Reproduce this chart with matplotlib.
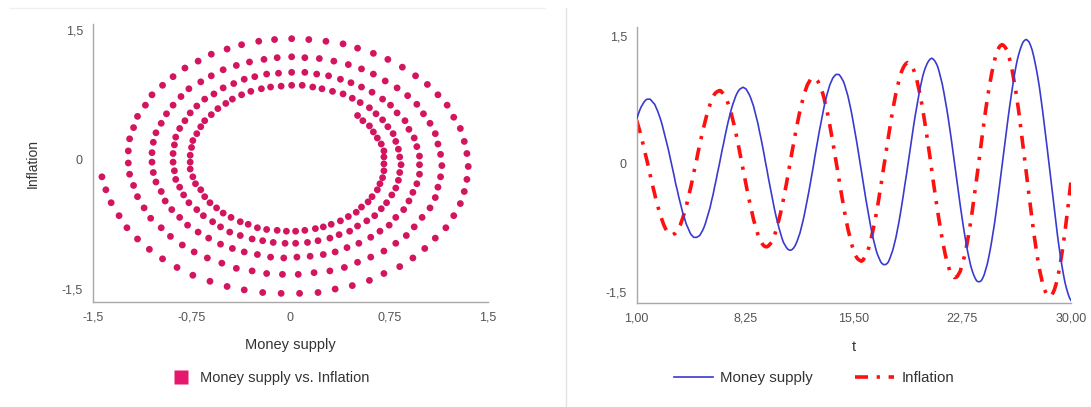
import matplotlib
matplotlib.use("Agg")
import matplotlib.pyplot as plt
from matplotlib.lines import Line2D

# time grid (t = 1.0 ... 30.0)
t = [
 1.0,1.1,1.2,1.3,1.4,1.5,1.6,1.7,1.8,1.9,
 2.0,2.1,2.2,2.3,2.4,2.5,2.6,2.7,2.8,2.9,
 3.0,3.1,3.2,3.3,3.4,3.5,3.6,3.7,3.8,3.9,
 4.0,4.1,4.2,4.3,4.4,4.5,4.6,4.7,4.8,4.9,
 5.0,5.1,5.2,5.3,5.4,5.5,5.6,5.7,5.8,5.9,
 6.0,6.1,6.2,6.3,6.4,6.5,6.6,6.7,6.8,6.9,
 7.0,7.1,7.2,7.3,7.4,7.5,7.6,7.7,7.8,7.9,
 8.0,8.1,8.2,8.3,8.4,8.5,8.6,8.7,8.8,8.9,
 9.0,9.1,9.2,9.3,9.4,9.5,9.6,9.7,9.8,9.9,
 10.0,10.1,10.2,10.3,10.4,10.5,10.6,10.7,10.8,10.9,
 11.0,11.1,11.2,11.3,11.4,11.5,11.6,11.7,11.8,11.9,
 12.0,12.1,12.2,12.3,12.4,12.5,12.6,12.7,12.8,12.9,
 13.0,13.1,13.2,13.3,13.4,13.5,13.6,13.7,13.8,13.9,
 14.0,14.1,14.2,14.3,14.4,14.5,14.6,14.7,14.8,14.9,
 15.0,15.1,15.2,15.3,15.4,15.5,15.6,15.7,15.8,15.9,
 16.0,16.1,16.2,16.3,16.4,16.5,16.6,16.7,16.8,16.9,
 17.0,17.1,17.2,17.3,17.4,17.5,17.6,17.7,17.8,17.9,
 18.0,18.1,18.2,18.3,18.4,18.5,18.6,18.7,18.8,18.9,
 19.0,19.1,19.2,19.3,19.4,19.5,19.6,19.7,19.8,19.9,
 20.0,20.1,20.2,20.3,20.4,20.5,20.6,20.7,20.8,20.9,
 21.0,21.1,21.2,21.3,21.4,21.5,21.6,21.7,21.8,21.9,
 22.0,22.1,22.2,22.3,22.4,22.5,22.6,22.7,22.8,22.9,
 23.0,23.1,23.2,23.3,23.4,23.5,23.6,23.7,23.8,23.9,
 24.0,24.1,24.2,24.3,24.4,24.5,24.6,24.7,24.8,24.9,
 25.0,25.1,25.2,25.3,25.4,25.5,25.6,25.7,25.8,25.9,
 26.0,26.1,26.2,26.3,26.4,26.5,26.6,26.7,26.8,26.9,
 27.0,27.1,27.2,27.3,27.4,27.5,27.6,27.7,27.8,27.9,
 28.0,28.1,28.2,28.3,28.4,28.5,28.6,28.7,28.8,28.9,
 29.0,29.1,29.2,29.3,29.4,29.5,29.6,29.7,29.8,29.9,
 30.0]

# time-series panel values
money_supply = [
 .53,.58,.63,.67,.70,.73,.75,.76,.76,.76,.74,.72,.70,.66,.62,.57,.52,.46,.39,.32,
 .25,.18,.10,.02,-.06,-.14,-.23,-.30,-.38,-.45,-.52,-.59,-.64,-.70,-.74,-.78,-.82,-.84,-.86,-.86,
 -.86,-.85,-.84,-.81,-.78,-.74,-.69,-.63,-.57,-.51,-.43,-.36,-.27,-.19,-.10,-.02,.07,.16,.24,.33,
 .41,.49,.56,
 .63,.69,.74,.79,.83,.86,.88,.89,.90,.89,.88,.85,.82,.78,.73,.68,.61,.54,.47,.38,
 .30,.21,.12,.02,-.07,-.17,-.26,-.35,-.44,-.53,-.61,-.68,-.75,-.81,-.87,-.92,-.95,-.98,-1.00,-1.01,
 -1.01,-1.00,-.98,-.95,-.91,-.86,-.81,-.74,-.67,-.59,-.50,-.41,-.32,-.22,-.12,-.02,.09,.19,.29,.39,
 .48,.57,.66,
 .74,.81,.87,.93,.97,1.01,1.03,1.05,1.05,1.05,1.03,1.00,.97,.92,.86,.80,.72,.64,.55,.45,
 .35,.25,.14,.03,-.08,-.19,-.30,-.41,-.51,-.61,-.71,-.80,-.88,-.95,-1.02,-1.07,-1.11,-1.15,-1.17,-1.18,
 -1.18,-1.17,-1.15,-1.11,-1.06,-1.01,-.94,-.87,-.78,-.69,-.59,-.48,-.37,-.25,-.14,-.02,.10,.22,.34,.46,
 .57,.67,.77,
 .87,.95,1.03,1.09,1.14,1.18,1.21,1.23,1.24,1.23,1.21,1.18,1.14,1.08,1.01,.94,.85,.75,.65,.54,
 .42,.30,.17,.04,-.09,-.22,-.35,-.48,-.60,-.72,-.83,-.93,-1.03,-1.11,-1.19,-1.25,-1.30,-1.34,-1.37,-1.38,
 -1.38,-1.37,-1.34,-1.30,-1.24,-1.18,-1.10,-1.01,-.91,-.80,-.69,-.56,-.43,-.29,-.16,-.02,.13,.27,.41,.54,
 .67,.79,.91,
 1.02,1.12,1.21,1.28,1.34,1.39,1.43,1.45,1.46,1.45,1.43,1.39,1.34,1.27,1.19,1.10,1.00,.89,.76,.63,
 .49,.35,.20,.05,-.10,-.26,-.41,-.56,-.70,-.84,-.97,-1.09,-1.20,-1.30,-1.39,-1.46,-1.52,-1.57,-1.60]

inflation = [
 .51,.45,.39,.32,.25,.18,.10,.03,-.05,-.13,-.21,-.28,-.35,-.43,-.49,-.55,-.61,-.66,-.71,-.75,
 -.78,-.80,-.82,-.83,-.83,-.82,-.81,-.79,-.75,-.72,-.67,-.62,-.56,-.50,-.43,-.35,-.28,-.20,-.11,-.03,
 .05,.14,.22,.30,.38,.45,.52,.59,.65,.70,.75,.79,.82,.84,.85,.86,.86,.84,.82,.79,
 .76,.71,.66,
 .60,.53,.46,.38,.30,.21,.12,.03,-.06,-.15,-.24,-.33,-.41,-.50,-.57,-.65,-.71,-.77,-.83,-.87,
 -.91,-.94,-.96,-.97,-.97,-.96,-.94,-.92,-.88,-.84,-.78,-.72,-.65,-.58,-.50,-.41,-.32,-.23,-.13,-.03,
 .07,.17,.26,.36,.45,.54,.62,.70,.76,.83,.88,.93,.96,.99,1.00,1.01,1.01,.99,.97,.93,
 .89,.84,.78,
 .70,.63,.54,.45,.35,.25,.15,.04,-.06,-.17,-.28,-.38,-.48,-.58,-.67,-.76,-.83,-.90,-.97,-1.02,
 -1.07,-1.10,-1.12,-1.13,-1.14,-1.13,-1.10,-1.07,-1.03,-.98,-.91,-.84,-.76,-.67,-.58,-.48,-.37,-.26,-.15,-.03,
 .08,.20,.31,.42,.53,.63,.73,.82,.90,.97,1.04,1.09,1.13,1.16,1.18,1.19,1.18,1.17,1.14,1.10,
 1.05,.99,.91,
 .83,.74,.64,.53,.42,.30,.18,.06,-.07,-.20,-.32,-.44,-.56,-.67,-.78,-.88,-.97,-1.06,-1.13,-1.19,
 -1.25,-1.29,-1.31,-1.33,-1.33,-1.32,-1.29,-1.26,-1.20,-1.14,-1.07,-.99,-.89,-.79,-.68,-.56,-.43,-.30,-.17,-.04,
 .10,.24,.37,.50,.63,.75,.86,.96,1.06,1.14,1.22,1.28,1.33,1.37,1.39,1.40,1.39,1.37,1.34,1.29,
 1.23,1.16,1.07,
 .97,.87,.75,.63,.49,.36,.21,.07,-.08,-.23,-.37,-.51,-.65,-.79,-.91,-1.03,-1.14,-1.24,-1.32,-1.40,
 -1.46,-1.50,-1.54,-1.55,-1.55,-1.54,-1.51,-1.47,-1.41,-1.34,-1.25,-1.15,-1.04,-.92,-.79,-.65,-.50,-.35,-.20]

# money supply (x of each dot)
scatter_money_supply = [
 .51,.55,.60,.63,.66,.69,.71,.71,.71,.71,.70,.68,.66,.62,.59,.54,.50,.44,.38,.31,
 .25,.19,.11,.04,-.03,-.10,-.18,-.25,-.32,-.38,-.45,-.51,-.56,-.61,-.65,-.68,-.72,-.74,-.76,-.76,
 -.76,-.75,-.74,-.71,-.68,-.65,-.60,-.55,-.49,-.44,-.37,-.30,-.22,-.15,-.07,.01,.09,.17,.24,.32,
 .40,.47,.53,
 .60,.65,.70,.74,.78,.80,.82,.83,.84,.83,.82,.80,.77,.73,.69,.64,.58,.51,.45,.37,
 .30,.21,.13,.04,-.04,-.13,-.21,-.29,-.38,-.46,-.53,-.59,-.66,-.71,-.77,-.81,-.84,-.87,-.88,-.89,
 -.89,-.88,-.87,-.84,-.80,-.76,-.71,-.65,-.58,-.51,-.43,-.35,-.27,-.18,-.09,.01,.11,.20,.29,.38,
 .46,.54,.62,
 .70,.76,.81,.87,.90,.94,.96,.98,.98,.98,.96,.93,.90,.86,.80,.75,.68,.61,.52,.43,
 .34,.25,.15,.05,-.05,-.15,-.25,-.35,-.44,-.53,-.62,-.70,-.78,-.84,-.90,-.95,-.98,-1.02,-1.04,-1.05,
 -1.05,-1.04,-1.02,-.98,-.94,-.89,-.83,-.77,-.68,-.60,-.51,-.41,-.31,-.20,-.10,.01,.11,.22,.33,.44,
 .54,.63,.72,
 .81,.89,.96,1.01,1.06,1.10,1.12,1.14,1.15,1.14,1.12,1.10,1.06,1.00,.94,.88,.80,.71,.61,.51,
 .41,.30,.18,.06,-.06,-.18,-.29,-.41,-.52,-.63,-.73,-.82,-.91,-.98,-1.06,-1.11,-1.16,-1.19,-1.22,-1.23,
 -1.23,-1.22,-1.19,-1.16,-1.10,-1.05,-.97,-.89,-.80,-.70,-.60,-.48,-.37,-.24,-.12,.01,.14,.27,.40,.51,
 .63,.74,.85,
 .95,1.04,1.12,1.19,1.24,1.29,1.32,1.34,1.35,1.34,1.32,1.29,1.24,1.18,1.10,1.02,.93,.83,.71,.60,
 .47,.34,.21,.07,-.07,-.21,-.35,-.48,-.61,-.74,-.86,-.97,-1.07,-1.16,-1.24,-1.30,-1.36,-1.40,-1.43]

scatter_x_ticks = [-1.5, -0.75, 0, 0.75, 1.5]
scatter_x_labels = ["-1,5", "-0,75", "0", "0,75", "1,5"]
y_ticks = [-1.5, 0, 1.5]
y_labels = ["-1,5", "0", "1,5"]
t_ticks = [1.0, 8.25, 15.5, 22.75, 30.0]
t_labels = ["1,00", "8,25", "15,50", "22,75", "30,00"]

plt.rcParams['font.family'] = ['Liberation Sans', 'DejaVu Sans']

W, H = 1091, 407
fig = plt.figure(figsize=(W / 100, H / 100), dpi=100)
fig.patch.set_facecolor('white')

axis_col = '#a8a8a8'
tick_col = '#555555'
text_col = '#333333'


def style(ax):
    for s in ['top', 'right']:
        ax.spines[s].set_visible(False)
    for s in ['left', 'bottom']:
        ax.spines[s].set_color(axis_col)
        ax.spines[s].set_linewidth(1.0)
    ax.tick_params(length=0, labelsize=9, colors=tick_col, pad=7)


# ---- left: scatter
ax1 = fig.add_axes([92.7 / W, 1 - 302 / H, (488 - 92.7) / W, (302 - 24) / H])
style(ax1)
ax1.scatter(scatter_money_supply, inflation, s=24, color='#d3145f', edgecolors='none', zorder=3)
ax1.set_xlim(-1.5, 1.5)
ax1.set_ylim(-1.65, 1.57)
ax1.set_xticks(scatter_x_ticks)
ax1.set_xticklabels(scatter_x_labels)
ax1.set_yticks(y_ticks)
ax1.set_yticklabels(y_labels)
ax1.set_xlabel('Money supply', fontsize=10.5, color=text_col, labelpad=10)
ax1.set_ylabel('Inflation', fontsize=10, color=text_col, labelpad=16)

# ---- right: time series
ax2 = fig.add_axes([636.7 / W, 1 - 303 / H, (1071 - 636.7) / W, (303 - 26.7) / H])
style(ax2)
ax2.plot(t, money_supply, color='#3a3acf', lw=1.2, zorder=3)
ax2.plot(t, inflation, color='#ff1010', lw=2.6, zorder=2,
         linestyle=(0, (3.6, 2.4, 0.9, 2.4)), dash_capstyle='butt')
ax2.set_xlim(1, 30)
ax2.set_ylim(-1.63, 1.61)
ax2.set_xticks(t_ticks)
ax2.set_xticklabels(t_labels)
ax2.set_yticks(y_ticks)
ax2.set_yticklabels(y_labels)
ax2.set_xlabel('t', fontsize=10.5, color=text_col, labelpad=11)

# separators
fig.add_artist(Line2D([566 / W, 566 / W], [0, 1 - 8 / H], color='#e2e2e2', lw=1))
fig.add_artist(Line2D([10 / W, 545 / W], [1 - 8 / H, 1 - 8 / H], color='#f0f0f0', lw=1))

# legends
h1 = Line2D([], [], marker='s', linestyle='none', markersize=10,
            markerfacecolor='#e8176e', markeredgecolor='none')
fig.legend([h1], ['Money supply vs. Inflation'], loc='center',
           bbox_to_anchor=(268 / W, 1 - 378 / H), frameon=False, fontsize=10.5,
           handletextpad=0.3, labelcolor=text_col)

h2 = Line2D([], [], color='#3a3acf', lw=1.2)
h3 = Line2D([], [], color='#ff1010', lw=2.6, linestyle=(0, (3.6, 2.4, 0.9, 2.4)),
            dash_capstyle='butt')
fig.legend([h2, h3], ['Money supply', 'Inflation'], loc='center', ncol=2,
           bbox_to_anchor=(814 / W, 1 - 378 / H), frameon=False, fontsize=10.8,
           handlelength=2.6, handletextpad=0.5, columnspacing=2.8, labelcolor=text_col)

fig.savefig('out.png', dpi=100, facecolor='white')
